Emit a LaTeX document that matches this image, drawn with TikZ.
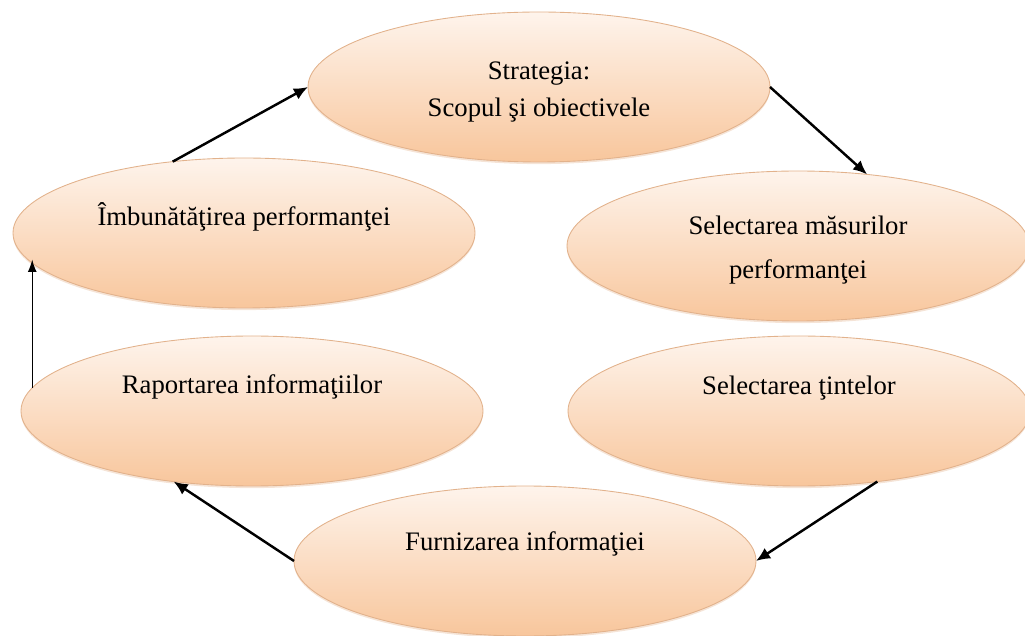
\documentclass[tikz,border=0pt]{standalone}
\usepackage{fontspec}
\setmainfont{Liberation Serif}
\usetikzlibrary{arrows.meta,calc,shapes.geometric,shadows}

\definecolor{peachTop}{RGB}{254,244,236}
\definecolor{peachBot}{RGB}{248,198,156}
\definecolor{peachEdge}{RGB}{226,178,140}

\begin{document}
\begin{tikzpicture}[>=Latex]

% ----------------------------
% Styles
% ----------------------------
\tikzset{
	oval/.style={ellipse,minimum width=9.24cm,minimum height=3.0cm,inner sep=0pt,outer sep=0pt,
		top color=peachTop,bottom color=peachBot,draw=peachEdge,line width=0.5pt,
		drop shadow={shadow xshift=0pt,shadow yshift=-1.2pt,opacity=0.35,fill=peachEdge}},
	lbl/.style={align=center,font=\fontsize{15.2}{21}\selectfont,inner sep=0pt},
	cyc/.style={-{Latex[length=8pt,width=7pt]},line width=1.4pt},
	cycthin/.style={-{Latex[length=7pt,width=5pt]},line width=0.7pt}
}

\useasboundingbox (0,0) rectangle (20.5,12.7);

% ============================================================
% The six stages of the cycle
% ============================================================
\node[oval] (strat)  at (10.78,10.96) {};
\node[oval] (masuri) at (15.96,7.78)  {};
\node[oval] (tinte)  at (15.98,4.48)  {};
\node[oval] (furn)   at (10.50,1.48)  {};
\node[oval] (rap)    at (5.04,4.48)   {};
\node[oval] (imb)    at (4.88,8.04)   {};

% Texts (single lines sit a little above the centre)
\node[lbl] (stratT)  at ($(strat)+(0,-0.10)$)  {Strategia:\\ Scopul şi obiectivele};
\node[lbl] (masuriT) at ($(masuri)+(0,-0.08)$) {Selectarea măsurilor\\[4pt] performanţei};
\node[lbl] (tinteT)  at ($(tinte)+(0,0.45)$)   {Selectarea ţintelor};
\node[lbl] (furnT)   at ($(furn)+(0,0.35)$)    {Furnizarea informaţiei};
\node[lbl] (rapT)    at ($(rap)+(0,0.49)$)     {Raportarea informaţiilor};
\node[lbl] (imbT)    at ($(imb)+(0,0.33)$)     {Îmbunătăţirea performanţei};

% ============================================================
% Arrows round the cycle
% ============================================================
\draw[cyc] (imb.135) -- (strat.west);
\draw[cyc] (strat.east) -- (masuri.46);
\draw[cyc] (tinte.-42) -- (furn.east);
\draw[cyc] (furn.west) -- (rap.222);
\draw[cycthin] (rap.174) -- (rap.174 |- imb.187);

\end{tikzpicture}
\end{document}
